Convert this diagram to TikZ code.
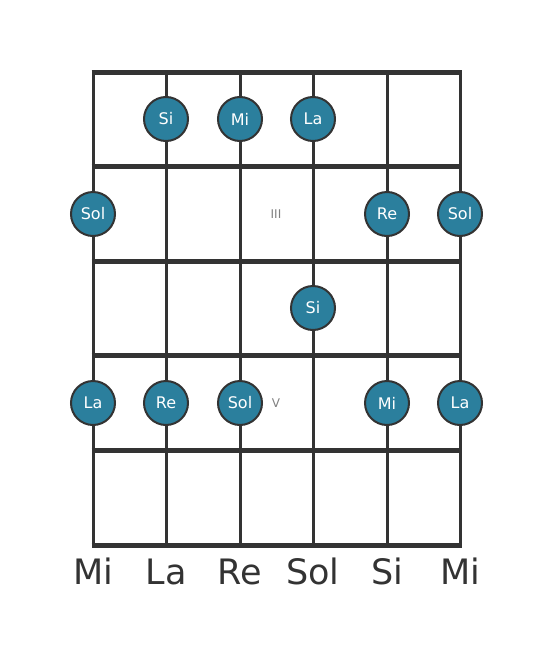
\documentclass[tikz,border=0pt]{standalone}
\usepackage{fontspec}
\setmainfont{DejaVu Sans}
\definecolor{dotc}{HTML}{2B7F9D}
\definecolor{linec}{HTML}{333333}
\definecolor{markc}{HTML}{808080}
\begin{document}
\begin{tikzpicture}[x=1pt,y=-1pt,
  fretline/.style={line width=5pt,draw=linec},
  stringline/.style={line width=3pt,draw=linec},
  notedot/.style={circle,fill=dotc,draw=linec,line width=2pt,minimum size=44pt,inner sep=0pt,text=white,font=\fontsize{16}{16}\selectfont},
  strlabel/.style={text=linec,font=\fontsize{35}{35}\selectfont,anchor=base},
  fretmark/.style={text=markc,font=\fontsize{12}{12}\selectfont}]
\useasboundingbox (0,0) rectangle (553,656);
% strings
\foreach \x/\n in {93/s1,166/s2,240/s3,313/s4,387/s5,460/s6}{
  \coordinate (\n t) at (\x,72);
  \coordinate (\n b) at (\x,545);
  \draw[stringline] (\n t) -- (\n b);
}
% frets
\foreach \y/\n in {72/f0,166/f1,261/f2,355/f3,450/f4,545/f5}{
  \coordinate (\n l) at (93,\y);
  \coordinate (\n r) at (460,\y);
  \draw[fretline] ([xshift=-1.5pt]\n l) -- ([xshift=1.5pt]\n r);
}
% fret markers
\node[fretmark] (m3) at (276,214) {III};
\node[fretmark] (m5) at (276,403) {V};
% dots
\node[notedot] (d1) at (166,119) {Si};
\node[notedot] (d2) at (240,119) {Mi};
\node[notedot] (d3) at (313,119) {La};
\node[notedot] (d4) at (93,214) {Sol};
\node[notedot] (d5) at (387,214) {Re};
\node[notedot] (d6) at (460,214) {Sol};
\node[notedot] (d7) at (313,308) {Si};
\node[notedot] (d8) at (93,403) {La};
\node[notedot] (d9) at (166,403) {Re};
\node[notedot] (d10) at (240,403) {Sol};
\node[notedot] (d11) at (387,403) {Mi};
\node[notedot] (d12) at (460,403) {La};
% string names
\node[strlabel] (n1) at (93,584) {Mi};
\node[strlabel] (n2) at (166,584) {La};
\node[strlabel] (n3) at (240,584) {Re};
\node[strlabel] (n4) at (313,584) {Sol};
\node[strlabel] (n5) at (387,584) {Si};
\node[strlabel] (n6) at (460,584) {Mi};
\end{tikzpicture}
\end{document}
